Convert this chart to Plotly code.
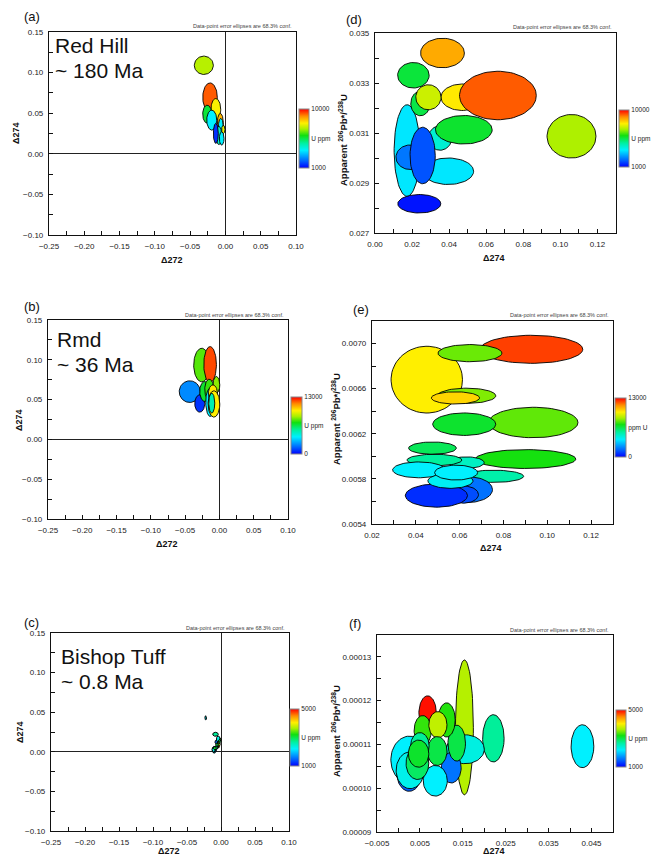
import numpy as np
import plotly.graph_objects as go
from plotly.colors import sample_colorscale

FIG_W, FIG_H = 656, 858
FONT = "Liberation Sans, Arial, sans-serif"

# Rainbow scale used for U concentration
JET = [[0.0, "#0000FF"], [0.12, "#0064FF"], [0.30, "#00F0FF"], [0.42, "#00F0A0"],
       [0.55, "#10E010"], [0.66, "#A8F000"], [0.76, "#FFF000"], [0.88, "#FF8C00"],
       [1.0, "#FF0000"]]

# ---------------- Red Hill (~180 Ma) : delta272 vs delta274 ----------------
rh_d272 = [-0.0306, -0.0218, -0.0136, -0.0258, -0.0194, -0.0072, -0.0065, -0.0030, -0.0093, -0.0136, -0.0053]
rh_d272_err = [0.0135, 0.0103, 0.0069, 0.0064, 0.0071, 0.0042, 0.0035, 0.0024, 0.0040, 0.0035, 0.0033]
rh_d274 = [0.109, 0.0695, 0.0548, 0.0488, 0.0415, 0.0384, 0.0333, 0.0300, 0.0226, 0.0251, 0.0189]
rh_d274_err = [0.0113, 0.0178, 0.0133, 0.0111, 0.0123, 0.0113, 0.0103, 0.0051, 0.0113, 0.0123, 0.0082]
rh_u = [7100, 9300, 7800, 5600, 3700, 8500, 3700, 7600, 4300, 1500, 3700]

# Red Hill : delta274 vs apparent 206Pb*/238U
rh2_d274 = [0.0239, 0.0173, 0.0189, 0.0351, 0.0395, 0.0257, 0.0479, 0.0245, 0.0470, 0.0288, 0.0663, 0.0207, 0.0364, 0.1060]
rh2_d274_err = [0.0116, 0.0070, 0.0076, 0.0063, 0.0137, 0.0068, 0.0153, 0.0052, 0.0114, 0.0068, 0.0207, 0.0085, 0.0118, 0.0132]
rh2_pb = [0.02817, 0.0303, 0.03003, 0.0308, 0.02947, 0.0301, 0.03113, 0.03218, 0.03243, 0.03243, 0.0325, 0.03331, 0.0342, 0.03087]
rh2_pb_err = [0.00037, 0.00183, 0.00049, 0.00049, 0.00053, 0.00113, 0.00057, 0.00049, 0.00053, 0.0005, 0.00097, 0.00051, 0.00059, 0.00087]
rh2_u = [1200, 3600, 2300, 4200, 3600, 1900, 5700, 5500, 7900, 7300, 9300, 5600, 8600, 7000]

# ---------------- Rmd (~36 Ma) ----------------
rmd_d272 = [-0.0258, -0.0136, -0.0433, -0.0287, -0.0214, -0.0148, -0.0044, -0.0134, -0.0095, -0.0080, -0.0112]
rmd_d272_err = [0.0117, 0.0092, 0.0153, 0.0073, 0.0073, 0.0066, 0.0049, 0.0066, 0.0066, 0.0085, 0.0044]
rmd_d274 = [0.0934, 0.0940, 0.0600, 0.0451, 0.0602, 0.0627, 0.0686, 0.0466, 0.0580, 0.0445, 0.0456]
rmd_d274_err = [0.0211, 0.0226, 0.0136, 0.0109, 0.0125, 0.0130, 0.0105, 0.0178, 0.0105, 0.0165, 0.0125]
rmd_u = [7800, 12200, 2200, 800, 6800, 7500, 8300, 3900, 10000, 9900, 5200]

rmd2_d274 = [0.0928, 0.0450, 0.0647, 0.0632, 0.0581, 0.0936, 0.0621, 0.0901, 0.0755, 0.0638, 0.0618,
             0.0494, 0.0631, 0.0476, 0.0485, 0.0414, 0.0558, 0.0584]
rmd2_d274_err = [0.0234, 0.0163, 0.0146, 0.0133, 0.0110, 0.0204, 0.0144, 0.0229, 0.0137, 0.0112, 0.0068,
                 0.0142, 0.0081, 0.0109, 0.0125, 0.0120, 0.0103, 0.0098]
rmd2_pb = [0.006949, 0.00668, 0.006915, 0.006537, 0.006518, 0.0063, 0.006285, 0.005976, 0.005823, 0.005705,
           0.005661, 0.005652, 0.005944, 0.006073, 0.005967, 0.00588, 0.005782, 0.005856]
rmd2_pb_err = [0.0001245, 0.000296, 0.0000762, 0.0000674, 0.0000542, 0.000135, 0.0000996, 0.0000835, 0.0000542,
               0.0001143, 0.0000762, 0.0001026, 0.0000513, 0.0000542, 0.0000513, 0.0000703, 0.0000659, 0.0000659]
rmd2_u = [12300, 9900, 8000, 8200, 10300, 7900, 6800, 7200, 5300, 1800, 1200, 700, 4900, 6300, 5500, 3900, 4100, 3900]

# ---------------- Bishop Tuff (~0.8 Ma) ----------------
bt_d274 = [0.04288, 0.02212, 0.01538, 0.01558, 0.01231, 0.01358, 0.0068, 0.01123, 0.00258, 0.0025, 0.00273,
           0.00858, 0.00565, 0.00919, 0.00442, 0.00904, 0.0050, 0.00469]
bt_d274_err = [0.00265, 0.0025, 0.00208, 0.00442, 0.0023, 0.00204, 0.00204, 0.0020, 0.00435, 0.00288, 0.00327,
               0.0028, 0.0020, 0.00212, 0.00265, 0.00227, 0.00215, 0.00238]
bt_pb = [0.0001096, 0.0001114, 0.0001139, 0.0001089, 0.0001047, 0.0001103, 0.0001171, 0.0001156, 0.0001065,
         0.0001034, 0.0001041, 0.0001017, 0.0001132, 0.0001145, 0.0001057, 0.0001085, 0.0001097, 0.0001079]
bt_pb_err = [0.0000049, 0.0000054, 0.0000154, 0.0000033, 0.0000035, 0.0000041, 0.0000040, 0.0000039, 0.0000054,
             0.0000041, 0.0000042, 0.0000035, 0.0000034, 0.0000030, 0.0000037, 0.0000033, 0.0000030, 0.0000031]
bt_u = [2200, 2700, 3700, 2350, 1560, 3000, 4950, 3250, 2200, 1450, 2300, 2200, 3300, 3750, 2900, 3000, 2700, 3100]
bt_d272 = [-0.0225, -0.0081, -0.0020, -0.0040, -0.0070, -0.0020, -0.0040, -0.0030, -0.0100, -0.0090, -0.0110,
           -0.0050, -0.0060, -0.0030, -0.0080, -0.0060, -0.0070, -0.0090]
bt_d272_err = [0.0012, 0.0041, 0.0020, 0.0028, 0.0020, 0.0018, 0.0018, 0.0018, 0.0028, 0.0020, 0.0022,
               0.0020, 0.0018, 0.0018, 0.0020, 0.0018, 0.0018, 0.0020]

T = np.linspace(0, 2 * np.pi, 72)


def fx(p):
    return p / FIG_W


def fy(p):
    return 1 - p / FIG_H


fig = go.Figure()


def add_ellipses(cx, sx, cy, sy, u, umin, umax, ax, lw=0.9):
    cols = sample_colorscale(JET, [(v - umin) / (umax - umin) for v in u])
    for i in range(len(cx)):
        fig.add_trace(go.Scatter(
            x=cx[i] + sx[i] * np.cos(T), y=cy[i] + sy[i] * np.sin(T),
            mode="lines", fill="toself", fillcolor=cols[i],
            line=dict(color="black", width=lw), hoverinfo="skip",
            showlegend=False, xaxis="x" + ax, yaxis="y" + ax))


def add_colorbar(ax, x0, y0, umin, umax, ticktext, box):
    left, top, w, h = box
    fig.add_trace(go.Scatter(
        x=[x0], y=[y0], mode="markers", hoverinfo="skip", showlegend=False,
        marker=dict(size=1, opacity=0, color=[umin], colorscale=JET, cmin=umin, cmax=umax,
                    showscale=True,
                    colorbar=dict(x=fx(left), xanchor="left", xpad=0, y=fy(top), yanchor="top", ypad=0,
                                  len=h, lenmode="pixels", thickness=w, thicknessmode="pixels",
                                  outlinewidth=1, outlinecolor="#888",
                                  tickvals=[umin, (umin + umax) / 2, umax], ticktext=ticktext,
                                  ticks="",
                                  tickfont=dict(size=6.5, family=FONT, color="#222"))),
        xaxis="x" + ax, yaxis="y" + ax))


# Panel (a)
add_ellipses(rh_d272, rh_d272_err, rh_d274, rh_d274_err, rh_u, 1000, 10000, "")
add_colorbar("", rh_d272[0], rh_d274[0], 1000, 10000, ["1000", "U ppm", "10000"], (299, 109, 10, 59))
# Panel (d)
add_ellipses(rh2_d274, rh2_d274_err, rh2_pb, rh2_pb_err, rh2_u, 1000, 10000, "2")
add_colorbar("2", rh2_d274[0], rh2_pb[0], 1000, 10000, ["1000", "U ppm", "10000"], (619, 110, 10, 57))
# Panel (b)
add_ellipses(rmd_d272, rmd_d272_err, rmd_d274, rmd_d274_err, rmd_u, 0, 13000, "3")
add_colorbar("3", rmd_d272[0], rmd_d274[0], 0, 13000, ["0", "U ppm", "13000"], (291, 397, 11, 57))
# Panel (e)
add_ellipses(rmd2_d274, rmd2_d274_err, rmd2_pb, rmd2_pb_err, rmd2_u, 0, 13000, "4")
add_colorbar("4", rmd2_d274[0], rmd2_pb[0], 0, 13000, ["0", "ppm U", "13000"], (615, 398, 11, 59))
# Panel (c)
add_ellipses(bt_d272, bt_d272_err, bt_d274, bt_d274_err, bt_u, 1000, 5000, "5", lw=1.0)
add_colorbar("5", bt_d272[0], bt_d274[0], 1000, 5000, ["1000", "U ppm", "5000"], (290, 709, 9, 57))
# Panel (f)
add_ellipses(bt_d274, bt_d274_err, bt_pb, bt_pb_err, bt_u, 1000, 5000, "6")
add_colorbar("6", bt_d274[0], bt_pb[0], 1000, 5000, ["1000", "U ppm", "5000"], (616, 710, 10, 57))


def axis(box_lo, box_hi, horizontal, rng, tick0, dtick, fmt, mtick, anchor, zero=False):
    if horizontal:
        dom = [fx(box_lo), fx(box_hi)]
    else:
        dom = [fy(box_hi), fy(box_lo)]
    return dict(domain=dom, range=rng, anchor=anchor, tick0=tick0, dtick=dtick, tickformat=fmt,
                automargin=False, fixedrange=True,
                showline=True, linecolor="#111", linewidth=1.2, mirror=True,
                ticks="inside", ticklen=4, tickcolor="#111", tickwidth=1,
                minor=dict(ticks="inside", ticklen=4, tickcolor="#111", tick0=tick0, dtick=mtick),
                tickfont=dict(size=8, family=FONT, color="#222"), ticklabelstandoff=3,
                showgrid=False, zeroline=zero, zerolinecolor="#222", zerolinewidth=1.2)


# pixel boxes of the six plot areas: (left, right, top, bottom)
boxes = {
    "": (49, 296, 32, 235),
    "2": (375, 616, 33, 233),
    "3": (48, 288, 320, 519),
    "4": (372, 613, 321, 524),
    "5": (51, 289, 633, 831),
    "6": (377, 613, 635, 832),
}

lay = {}
for ax in ["", "3", "5"]:
    l, r, t, b = boxes[ax]
    lay["xaxis" + ax] = axis(l, r, True, [-0.25, 0.10], -0.25, 0.05, ".2f", 0.025, "y" + ax, zero=True)
    lay["yaxis" + ax] = axis(t, b, False, [-0.10, 0.15], -0.10, 0.05, ".2f", 0.025, "x" + ax, zero=True)

l, r, t, b = boxes["2"]
lay["xaxis2"] = axis(l, r, True, [0, 0.13], 0, 0.02, ".2f", 0.01, "y2")
lay["yaxis2"] = axis(t, b, False, [0.027, 0.035], 0.027, 0.002, ".3f", 0.001, "x2")
l, r, t, b = boxes["4"]
lay["xaxis4"] = axis(l, r, True, [0.02, 0.13], 0.02, 0.02, ".2f", 0.01, "y4")
lay["yaxis4"] = axis(t, b, False, [0.0054, 0.0072], 0.0054, 0.0004, ".4f", 0.0002, "x4")
l, r, t, b = boxes["6"]
lay["xaxis6"] = axis(l, r, True, [-0.005, 0.05], -0.005, 0.01, ".3f", 0.005, "y6")
lay["yaxis6"] = axis(t, b, False, [0.00009, 0.000135], 0.00009, 0.00001, ".5f", 0.000005, "x6")

ann = []


def text(x, y, s, size, xanchor="center", yanchor="middle", angle=0, color="#111", bold=False):
    ann.append(dict(x=fx(x), y=fy(y), xref="paper", yref="paper", text=("<b>%s</b>" % s) if bold else s,
                    showarrow=False, xanchor=xanchor, yanchor=yanchor, textangle=angle,
                    font=dict(size=size, family=FONT, color=color)))


# panel letters
for lab, x, y in [("(a)", 22, 16), ("(d)", 344, 20), ("(b)", 22, 306), ("(e)", 351, 309),
                  ("(c)", 22, 622), ("(f)", 347, 623)]:
    text(x, y, lab, 13, xanchor="left")

# sample names and ages
text(53, 45, "Red Hill", 21, xanchor="left")
text(53, 70, "~ 180 Ma", 21, xanchor="left")
text(55, 339, "Rmd", 21, xanchor="left")
text(55, 364, "~ 36 Ma", 21, xanchor="left")
text(59, 656, "Bishop Tuff", 21, xanchor="left")
text(59, 681, "~ 0.8 Ma", 21, xanchor="left")

# confidence note above each plot
for ax in boxes:
    l, r, t, b = boxes[ax]
    text(r - 2, t - 0.5, "Data-point error ellipses are 68.3% conf.", 5.5, xanchor="right",
         yanchor="bottom", color="#444")

# axis titles
text(172, 260, "Δ272", 9, bold=True)
text(167, 544, "Δ272", 9, bold=True)
text(169, 851, "Δ272", 9, bold=True)
text(494, 258, "Δ274", 9, bold=True)
text(491, 548, "Δ274", 9, bold=True)
text(494, 851, "Δ274", 9, bold=True)
text(16, 133, "Δ274", 9, angle=-90, bold=True)
text(19, 420, "Δ274", 9, angle=-90, bold=True)
text(20, 732, "Δ274", 9, angle=-90, bold=True)
pb_title = "Apparent <sup>206</sup>Pb*/<sup>238</sup>U"
text(343, 140, pb_title, 9.5, angle=-90, bold=True)
text(336, 419, pb_title, 9.5, angle=-90, bold=True)
text(336, 731, pb_title, 9.5, angle=-90, bold=True)

fig.update_layout(template="none", width=FIG_W, height=FIG_H, autosize=False,
                  margin=dict(l=0, r=0, t=0, b=0, pad=0),
                  paper_bgcolor="white", plot_bgcolor="white", showlegend=False,
                  font=dict(family=FONT, color="#222"),
                  annotations=ann, **lay)

fig.write_html("out.html")
